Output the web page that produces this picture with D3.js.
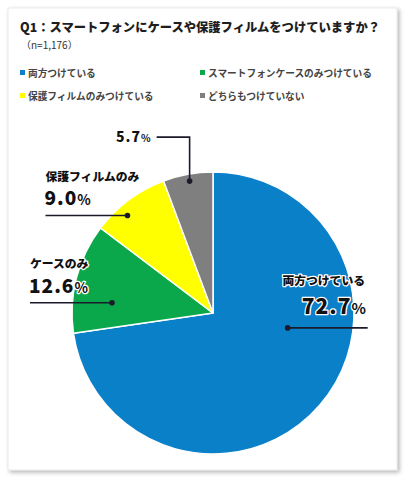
<!DOCTYPE html>
<html><head><meta charset="utf-8">
<script src="https://cdn.jsdelivr.net/npm/d3@7"></script>
<style>
html,body{margin:0;padding:0;background:#fff;}
svg{display:block;font-family:"Noto Sans CJK JP","Noto Sans",sans-serif;}
</style></head>
<body>
<svg id="chart" width="404" height="480"></svg>
<script>
const title = "Q1：スマートフォンにケースや保護フィルムをつけていますか？";
const subtitle = "（n=1,176）";
const categories = ["両方つけている","スマートフォンケースのみつけている","保護フィルムのみつけている","どちらもつけていない"];
const values = [72.7, 12.6, 9.0, 5.7];
const sliceLabels = ["両方つけている","ケースのみ","保護フィルムのみ",""];
const colors = ["#0a80c9","#0aa84a","#ffff00","#7f7f7f"];

const svg = d3.select("#chart");
const defs = svg.append("defs");
const f = defs.append("filter").attr("id","sh").attr("x","-5%").attr("y","-5%").attr("width","115%").attr("height","115%");
f.append("feDropShadow").attr("dx",2).attr("dy",2).attr("stdDeviation",2).attr("flood-color","#000").attr("flood-opacity",0.3);

svg.append("rect").attr("x",8).attr("y",8).attr("width",389).attr("height",462)
  .attr("fill","#fff").attr("stroke","#e4e4e4").attr("stroke-width",0.8).attr("filter","url(#sh)");

svg.append("text").attr("x",20).attr("y",32).attr("font-size",12.3).attr("font-weight",800)
  .attr("fill","#1e1e1e").text(title);
svg.append("text").attr("x",21).attr("y",49).attr("font-size",10).attr("fill","#333").text(subtitle);

// legend
const legPos = [[20,0],[200,0],[20,1],[200,1]];
const leg = svg.append("g");
categories.forEach((c,i)=>{
  const [lx,row] = legPos[i];
  const y = 73 + row*23;
  leg.append("rect").attr("x",lx).attr("y",y-3).attr("width",5).attr("height",5).attr("fill",colors[i]);
  leg.append("text").attr("x",lx+8).attr("y",y+4).attr("font-size",9.7).attr("font-weight",700)
    .attr("fill","#444").text(c);
});

// pie
const cx = 213, cy = 313, R = 141;
const pie = d3.pie().sort(null).value(d=>d)(values);
const arc = d3.arc().innerRadius(0).outerRadius(R);
const g = svg.append("g").attr("transform",`translate(${cx},${cy})`);
g.selectAll("path").data(pie).join("path").attr("d",arc)
  .attr("fill",(d,i)=>colors[i]).attr("stroke","#fff").attr("stroke-width",1.5).attr("stroke-linejoin","round");

// label anchor points inside slices: fraction of slice angle and of radius
const anchorFrac = [[0.387,0.54],[0.31,0.72],[0.36,0.92],[0.51,0.95]];
const pts = pie.map((d,i)=>{
  const a = d.startAngle + anchorFrac[i][0]*(d.endAngle-d.startAngle);
  const r = anchorFrac[i][1]*R;
  return [cx + r*Math.sin(a), cy - r*Math.cos(a)];
});

const ink = "#1b1a2a";
const ann = svg.append("g");
function pct(x,y,anchor,v,big,small){
  const t = ann.append("text").attr("x",x).attr("y",y).attr("text-anchor",anchor)
    .attr("font-weight",900).attr("fill","#111")
    .attr("stroke","#fff").attr("stroke-width",2.5).attr("paint-order","stroke").attr("stroke-linejoin","round");
  t.append("tspan").attr("font-size",big).attr("letter-spacing",1).text(v.toFixed(1));
  t.append("tspan").attr("font-size",small).attr("font-weight",700).text("%");
}
function name(x,y,anchor,s){
  ann.append("text").attr("x",x).attr("y",y).attr("text-anchor",anchor).attr("font-size",11.8)
    .attr("font-weight",800).attr("fill","#111")
    .attr("stroke","#fff").attr("stroke-width",2.5).attr("paint-order","stroke").attr("stroke-linejoin","round").text(s);
}
function dot(p){ ann.append("circle").attr("cx",p[0]).attr("cy",p[1]).attr("r",2.8).attr("fill",ink); }

// blue
ann.append("line").attr("x1",pts[0][0]).attr("y1",pts[0][1]).attr("x2",pts[0][0]+80).attr("y2",pts[0][1]).attr("stroke",ink).attr("stroke-width",1.6);
dot(pts[0]);
name(365,285,"end",sliceLabels[0]);
pct(366,314,"end",values[0],21,15);
// green
ann.append("line").attr("x1",pts[1][0]-82).attr("y1",pts[1][1]).attr("x2",pts[1][0]).attr("y2",pts[1][1]).attr("stroke",ink).attr("stroke-width",1.6);
dot(pts[1]);
name(pts[1][0]-82,268,"start",sliceLabels[1]);
pct(pts[1][0]-83,293,"start",values[1],19,14);
// yellow
ann.append("line").attr("x1",pts[2][0]-82).attr("y1",pts[2][1]).attr("x2",pts[2][0]).attr("y2",pts[2][1]).attr("stroke",ink).attr("stroke-width",1.6);
dot(pts[2]);
name(pts[2][0]-82,181,"start",sliceLabels[2]);
pct(pts[2][0]-83,205,"start",values[2],19,14);
// gray
const ey = pts[3][1]-44;
ann.append("path").attr("d",`M${pts[3][0]},${pts[3][1]}V${ey}H${pts[3][0]-33}`).attr("fill","none").attr("stroke",ink).attr("stroke-width",1.6);
dot(pts[3]);
pct(pts[3][0]-39,ey+5,"end",values[3],14,10);
</script>
</body></html>
